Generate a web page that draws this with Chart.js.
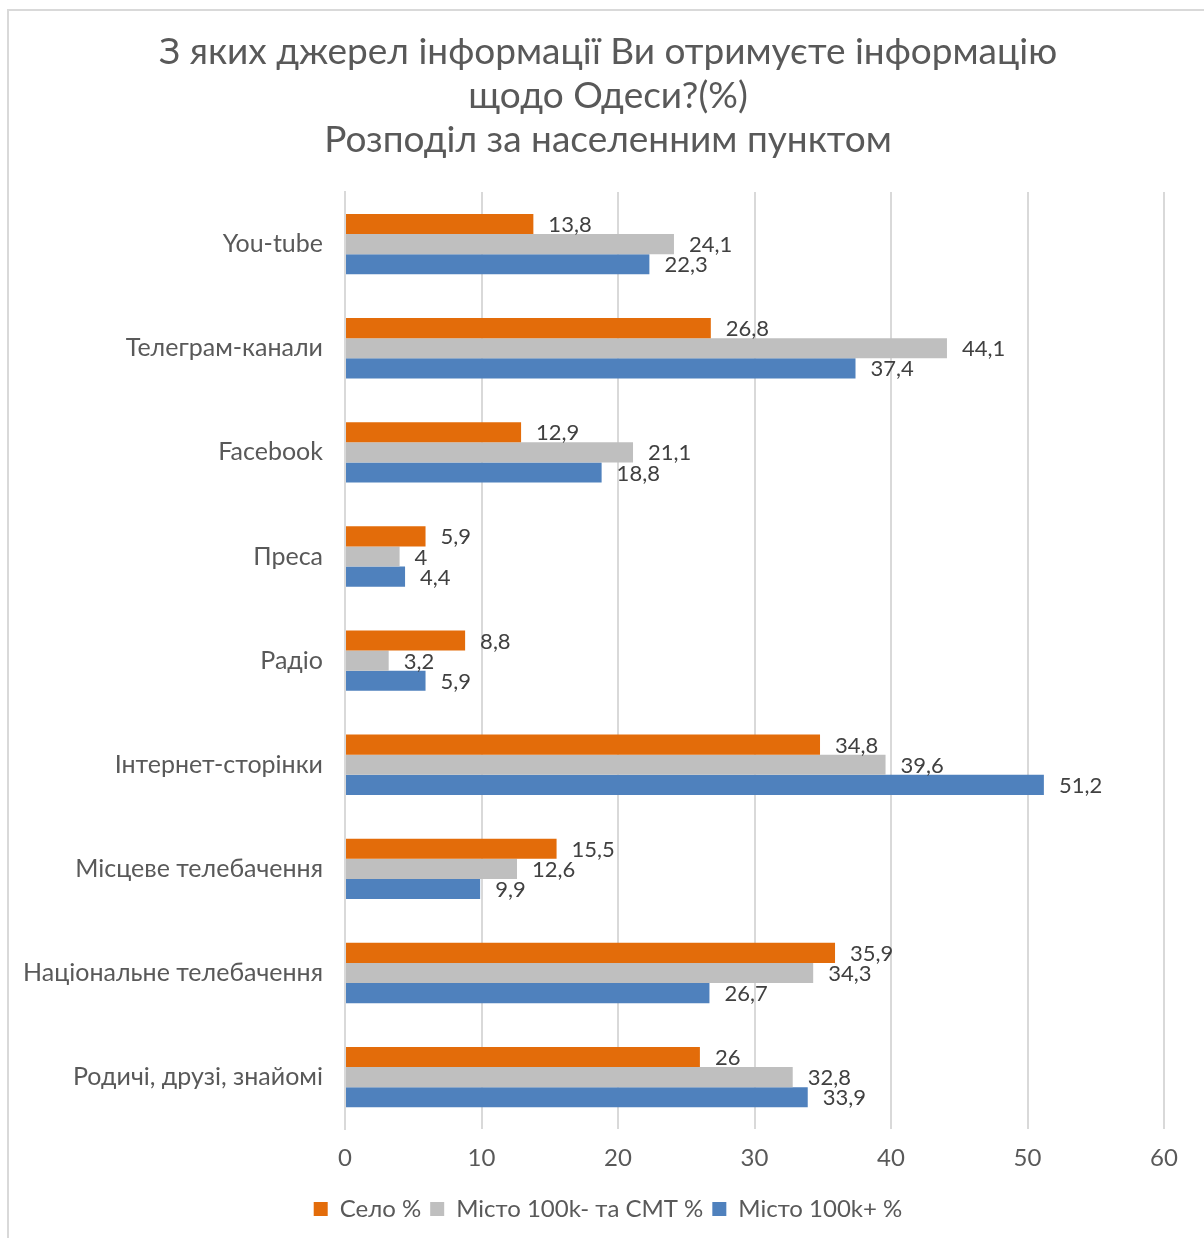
<!DOCTYPE html>
<html>
<head>
<meta charset="utf-8">
<script src="https://cdn.jsdelivr.net/npm/chart.js@4"></script>
<style>
  html, body { margin: 0; background: #fff; overflow: hidden; }
  #frame { position: absolute; left: 7px; top: 9px; width: 1300px; height: 1300px; border: 2px solid #d9d9d9; }
  #wrap { position: absolute; left: 0; top: 0; width: 1216px; height: 1238px; }
</style>
</head>
<body>
<div id="frame"></div>
<div id="wrap"><canvas id="chart"></canvas></div>
<script>
const categories = [
  "You-tube",
  "Телеграм-канали",
  "Facebook",
  "Преса",
  "Радіо",
  "Інтернет-сторінки",
  "Місцеве телебачення",
  "Національне телебачення",
  "Родичі, друзі, знайомі"
];
const selo = [13.8, 26.8, 12.9, 5.9, 8.8, 34.8, 15.5, 35.9, 26];
const misto100kMinus = [24.1, 44.1, 21.1, 4, 3.2, 39.6, 12.6, 34.3, 32.8];
const misto100kPlus = [22.3, 37.4, 18.8, 4.4, 5.9, 51.2, 9.9, 26.7, 33.9];
const seriesNames = ["Село %", "Місто 100k- та СМТ %", "Місто 100k+ %"];
const xTicks = [0, 10, 20, 30, 40, 50, 60];

const font = "Lato, 'Open Sans', sans-serif";
const textColor = "#595959";

const valueLabels = {
  id: "valueLabels",
  afterDatasetsDraw(chart) {
    const ctx = chart.ctx;
    ctx.save();
    ctx.font = "22px " + font;
    ctx.fillStyle = "#404040";
    ctx.textAlign = "left";
    ctx.textBaseline = "middle";
    chart.data.datasets.forEach((ds, i) => {
      chart.getDatasetMeta(i).data.forEach((bar, j) => {
        const txt = String(ds.data[j]).replace(".", ",");
        ctx.fillText(txt, bar.x + 15, bar.y + 1);
      });
    });
    ctx.restore();
  }
};

new Chart(document.querySelector("#chart").getContext("2d"), {
  type: "bar",
  data: {
    labels: categories,
    datasets: [
      { label: seriesNames[0], data: selo, backgroundColor: "#E36C0A" },
      { label: seriesNames[1], data: misto100kMinus, backgroundColor: "#BFBFBF" },
      { label: seriesNames[2], data: misto100kPlus, backgroundColor: "#4F81BD" }
    ]
  },
  options: {
    indexAxis: "y",
    responsive: true,
    maintainAspectRatio: false,
    animation: false,
    datasets: { bar: { categoryPercentage: 0.58, barPercentage: 1 } },
    layout: { padding: { left: 0, right: 0, top: 30, bottom: 7 } },
    scales: {
      x: {
        min: 0,
        max: 60,
        afterBuildTicks: (scale) => { scale.ticks = xTicks.map((v) => ({ value: v })); },
        afterFit: (scale) => { scale.paddingRight = 52; },
        grid: { color: "#d9d9d9", lineWidth: 2, drawTicks: false },
        border: { display: false },
        ticks: { color: textColor, font: { size: 24, family: font }, padding: 15 }
      },
      y: {
        afterFit: (scale) => { scale.width = 345; },
        grid: { display: false, drawTicks: false },
        border: { color: "#d9d9d9", width: 2 },
        ticks: { color: textColor, font: { size: 25, family: font }, padding: 22 }
      }
    },
    plugins: {
      title: {
        display: true,
        text: ["З яких джерел інформації Ви отримуєте інформацію", "щодо Одеси?(%)", "Розподіл за населенним пунктом"],
        color: textColor,
        font: { size: 37, family: font, weight: "normal", lineHeight: 1.19 },
        padding: { top: 0, bottom: 30 }
      },
      legend: {
        position: "bottom",
        labels: { color: textColor, font: { size: 24, family: font }, boxWidth: 14, boxHeight: 14, padding: 9 }
      },
      tooltip: { enabled: false }
    }
  },
  plugins: [valueLabels]
});
</script>
</body>
</html>
